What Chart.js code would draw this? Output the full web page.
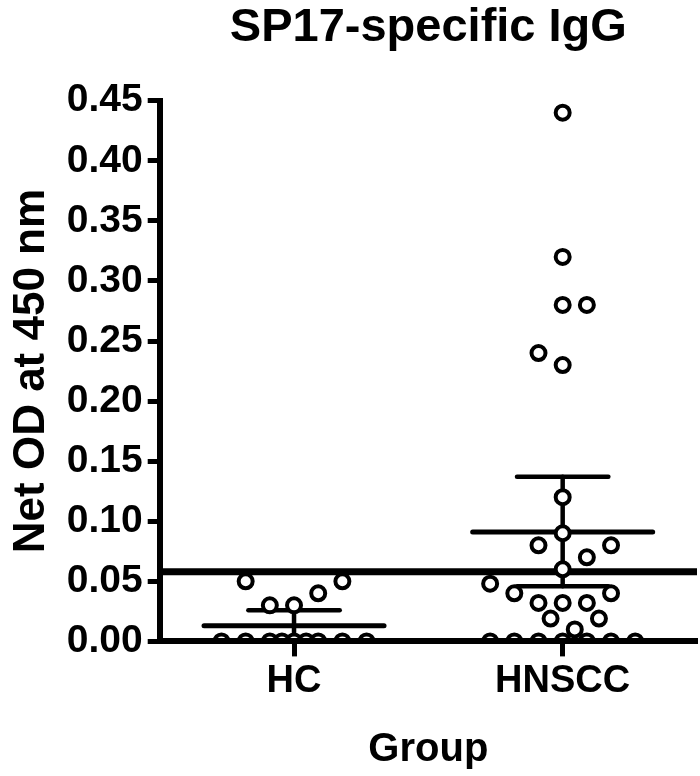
<!DOCTYPE html>
<html>
<head>
<meta charset="utf-8">
<script src="https://cdn.jsdelivr.net/npm/chart.js@4.4.1/dist/chart.umd.min.js"></script>
<style>
  body { margin: 0; background: #fff; }
</style>
</head>
<body>
<canvas id="dotChart" width="700" height="776"></canvas>
<script>
// ---- data ----
const groups = ["HC", "HNSCC"];

// HC values and their column slot (horizontal spread of the dots)
const hcValues = [0.05, 0.05, 0.04, 0.03, 0.03, 0, 0, 0, 0, 0, 0, 0, 0, 0];
const hcSlots  = [-2, 2, 1, -1, 0, -3, -2, -1, -0.5, 0, 0.5, 1, 2, 3];

// HNSCC values and slots
const hnsccValues = [0.44, 0.32, 0.28, 0.28, 0.24, 0.23, 0.12, 0.09, 0.08, 0.08, 0.07, 0.06,
                     0.048, 0.04, 0.04, 0.032, 0.032, 0.032, 0.019, 0.019, 0.01,
                     0, 0, 0, 0, 0, 0, 0];
const hnsccSlots  = [0, 0, 0, 1, -1, 0, 0, 0, -1, 2, 1, 0,
                     -3, -2, 2, -1, 0, 1, -0.5, 1.5, 0.5,
                     -3, -2, -1, 0, 1, 2, 3];

// mean and 95% CI per group
const groupMeans = [0.013, 0.091];
const ciLow  = [0.0, 0.046];
const ciHigh = [0.026, 0.137];

const cutoff = 0.058;

const yMin = 0;
const yMax = 0.45;
const yStep = 0.05;

// ---- build datasets ----
const slotStep = 0.09;
const meanHalf = 0.335;
const capHalf = 0.17;
const font = "'Liberation Sans', Arial, sans-serif";

function dots(values, slots, g) {
    return values.map((v, i) => ({ x: g + slots[i] * slotStep, y: v }));
}

function seg(x1, y1, x2, y2, w) {
    return {
        type: "scatter",
        data: [{ x: x1, y: y1 }, { x: x2, y: y2 }],
        showLine: true,
        borderColor: "#000",
        borderWidth: w,
        borderCapStyle: "round",
        pointRadius: 0,
        order: 2
    };
}

const datasets = [];

[hcValues, hnsccValues].forEach((vals, i) => {
    const slots = i === 0 ? hcSlots : hnsccSlots;
    datasets.push({
        type: "scatter",
        data: dots(vals, slots, i + 1),
        pointRadius: 7,
        pointBorderWidth: 4,
        pointBackgroundColor: "#fff",
        pointBorderColor: "#000",
        clip: 0,
        order: 0
    });
});

groups.forEach((g, i) => {
    const x = i + 1;
    datasets.push(seg(x - meanHalf, groupMeans[i], x + meanHalf, groupMeans[i], 5));
    datasets.push(seg(x, ciLow[i], x, ciHigh[i], 4.5));
    datasets.push(seg(x - capHalf, ciHigh[i], x + capHalf, ciHigh[i], 4.5));
    datasets.push(seg(x - capHalf, ciLow[i], x + capHalf, ciLow[i], 4.5));
});

// cut-off line
const cutLine = seg(0.5, cutoff, 2.5, cutoff, 7);
cutLine.borderCapStyle = "butt";
cutLine.clip = false;
datasets.push(cutLine);

new Chart(document.getElementById("dotChart"), {
    type: "scatter",
    data: { datasets: datasets },
    options: {
        responsive: false,
        animation: false,
        layout: { autoPadding: false, padding: { left: 5, right: 3, top: 0, bottom: 0 } },
        plugins: {
            legend: { display: false },
            tooltip: { enabled: false },
            title: {
                display: true,
                text: "SP17-specific IgG",
                color: "#000",
                fullSize: false,
                font: { family: font, size: 47, weight: "bold", lineHeight: 1.1 },
                padding: { top: 2, bottom: 47 }
            }
        },
        scales: {
            x: {
                type: "linear",
                min: 0.5,
                max: 2.5,
                afterBuildTicks: axis => {
                    axis.ticks = groups.map((g, i) => ({ value: i + 1 }));
                },
                ticks: {
                    color: "#000",
                    padding: 2,
                    font: { family: font, size: 38, weight: "bold" },
                    callback: v => groups[v - 1]
                },
                grid: {
                    drawOnChartArea: false,
                    tickLength: 15,
                    tickWidth: 5,
                    tickColor: "#000"
                },
                border: { display: true, color: "#000", width: 6, z: 1 },
                title: {
                    display: true,
                    text: "Group",
                    color: "#000",
                    font: { family: font, size: 40, weight: "bold" },
                    padding: { top: 20, bottom: 2 }
                }
            },
            y: {
                min: yMin,
                max: yMax,
                ticks: {
                    stepSize: yStep,
                    color: "#000",
                    padding: 5,
                    font: { family: font, size: 39, weight: "bold" },
                    callback: v => v.toFixed(2)
                },
                grid: {
                    drawOnChartArea: false,
                    tickLength: 12,
                    tickWidth: 5,
                    tickColor: "#000"
                },
                border: { display: true, color: "#000", width: 6, z: 1 },
                title: {
                    display: true,
                    text: "Net OD at 450 nm",
                    color: "#000",
                    font: { family: font, size: 44, weight: "bold" },
                    padding: { top: 0, bottom: 4 }
                }
            }
        }
    }
});
</script>
</body>
</html>
